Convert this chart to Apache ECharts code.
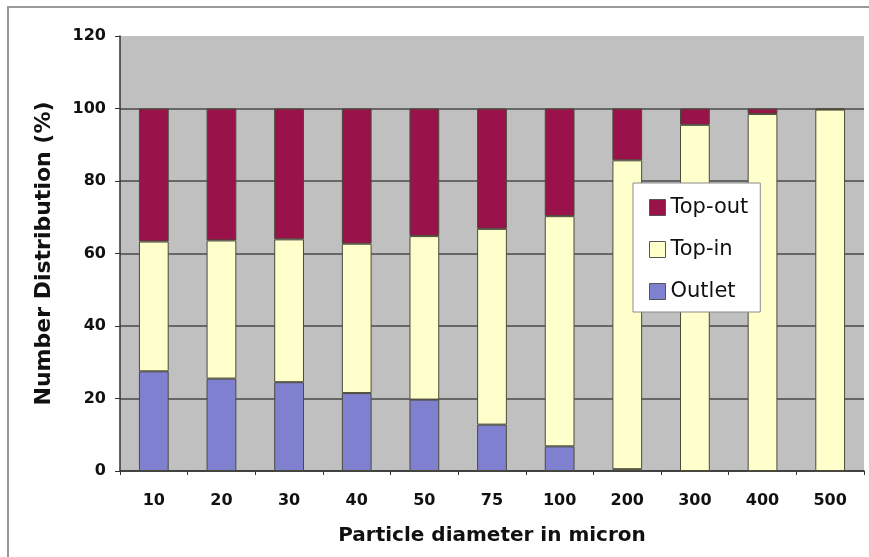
<!DOCTYPE html>
<html>
<head>
<meta charset="utf-8">
<script src="https://cdn.jsdelivr.net/npm/echarts@6/dist/echarts.min.js"></script>
<style>
  html, body { margin: 0; padding: 0; background: #ffffff; }
  #chart { width: 869px; height: 557px; }
</style>
</head>
<body>
<div id="chart"></div>
<script>
// Particle size classes (micron)
const categories = ['10', '20', '30', '40', '50', '75', '100', '200', '300', '400', '500'];

// Number distribution (%) per exit, stacked to 100
const outlet = [27.5, 25.5, 24.5, 21.5, 19.7, 12.8, 6.8, 0.5, 0, 0, 0];
const topIn  = [35.8, 38.1, 39.4, 41.2, 45.1, 54.0, 63.5, 85.2, 95.5, 98.5, 99.7];
const topOut = [36.7, 36.4, 36.1, 37.3, 35.2, 33.2, 29.7, 14.3, 4.5, 1.5, 0.3];

// Y axis ticks
const yTicks = [0, 20, 40, 60, 80, 100, 120];

const FONT = '"DejaVu Sans", "Liberation Sans", sans-serif';
const BAR_BORDER = '#4a4a3a';

const chart = echarts.init(document.getElementById('chart'), null, { renderer: 'canvas' });

function barSeries(name, data, color) {
  return {
    name: name,
    type: 'bar',
    stack: 'total',
    data: data,
    barWidth: '44%',
    itemStyle: { color: color, borderColor: BAR_BORDER, borderWidth: 1 },
    emphasis: { disabled: true }
  };
}

chart.setOption({
  backgroundColor: '#ffffff',
  animation: false,
  graphic: [{
    type: 'rect',
    shape: { x: 8, y: 7, width: 900, height: 600 },
    style: { fill: 'none', stroke: '#9a9a9a', lineWidth: 2 },
    silent: true,
    z: 100
  }],
  grid: {
    left: 120, right: 5, top: 36, bottom: 86,
    show: true,
    backgroundColor: '#c0c0c0',
    borderWidth: 0
  },
  legend: {
    data: ['Top-out', 'Top-in', 'Outlet'],
    orient: 'vertical',
    left: 633, top: 183,
    padding: [14, 12, 10, 16],
    itemGap: 21,
    itemWidth: 16, itemHeight: 16,
    icon: 'rect',
    backgroundColor: '#ffffff',
    borderColor: '#8a8a8a',
    borderWidth: 1,
    itemStyle: { borderColor: '#555555', borderWidth: 1 },
    textStyle: { fontFamily: FONT, fontSize: 21, color: '#111111' },
    selectedMode: false
  },
  xAxis: {
    type: 'category',
    data: categories,
    name: 'Particle diameter in micron',
    nameLocation: 'middle',
    nameGap: 55,
    nameTextStyle: { fontFamily: FONT, fontSize: 20, fontWeight: 'bold', color: '#111111' },
    axisLine: { show: true, lineStyle: { color: '#333333', width: 1.5 } },
    axisTick: { show: true, interval: 0, length: 4, lineStyle: { color: '#333333' } },
    axisLabel: { fontFamily: FONT, fontSize: 16, fontWeight: 'bold', color: '#111111', margin: 22, interval: 0 },
    splitLine: { show: false }
  },
  yAxis: {
    type: 'value',
    min: yTicks[0],
    max: yTicks[yTicks.length - 1],
    interval: yTicks[1] - yTicks[0],
    name: 'Number Distribution (%)',
    nameLocation: 'middle',
    nameGap: 65,
    nameTextStyle: { fontFamily: FONT, fontSize: 22, fontWeight: 'bold', color: '#111111' },
    axisLine: { show: true, lineStyle: { color: '#333333', width: 1.5 } },
    axisTick: { show: true, length: 5, lineStyle: { color: '#333333' } },
    axisLabel: { fontFamily: FONT, fontSize: 16, fontWeight: 'bold', color: '#111111', margin: 14 },
    splitLine: {
      show: true,
      lineStyle: {
        color: ['#4a4a4a', '#4a4a4a', '#4a4a4a', '#4a4a4a', '#4a4a4a', '#4a4a4a', 'rgba(0,0,0,0)'],
        width: 1.5
      }
    }
  },
  series: [
    barSeries('Outlet', outlet, '#8080d0'),
    barSeries('Top-in', topIn, '#ffffcc'),
    barSeries('Top-out', topOut, '#99134a')
  ]
});
</script>
</body>
</html>
